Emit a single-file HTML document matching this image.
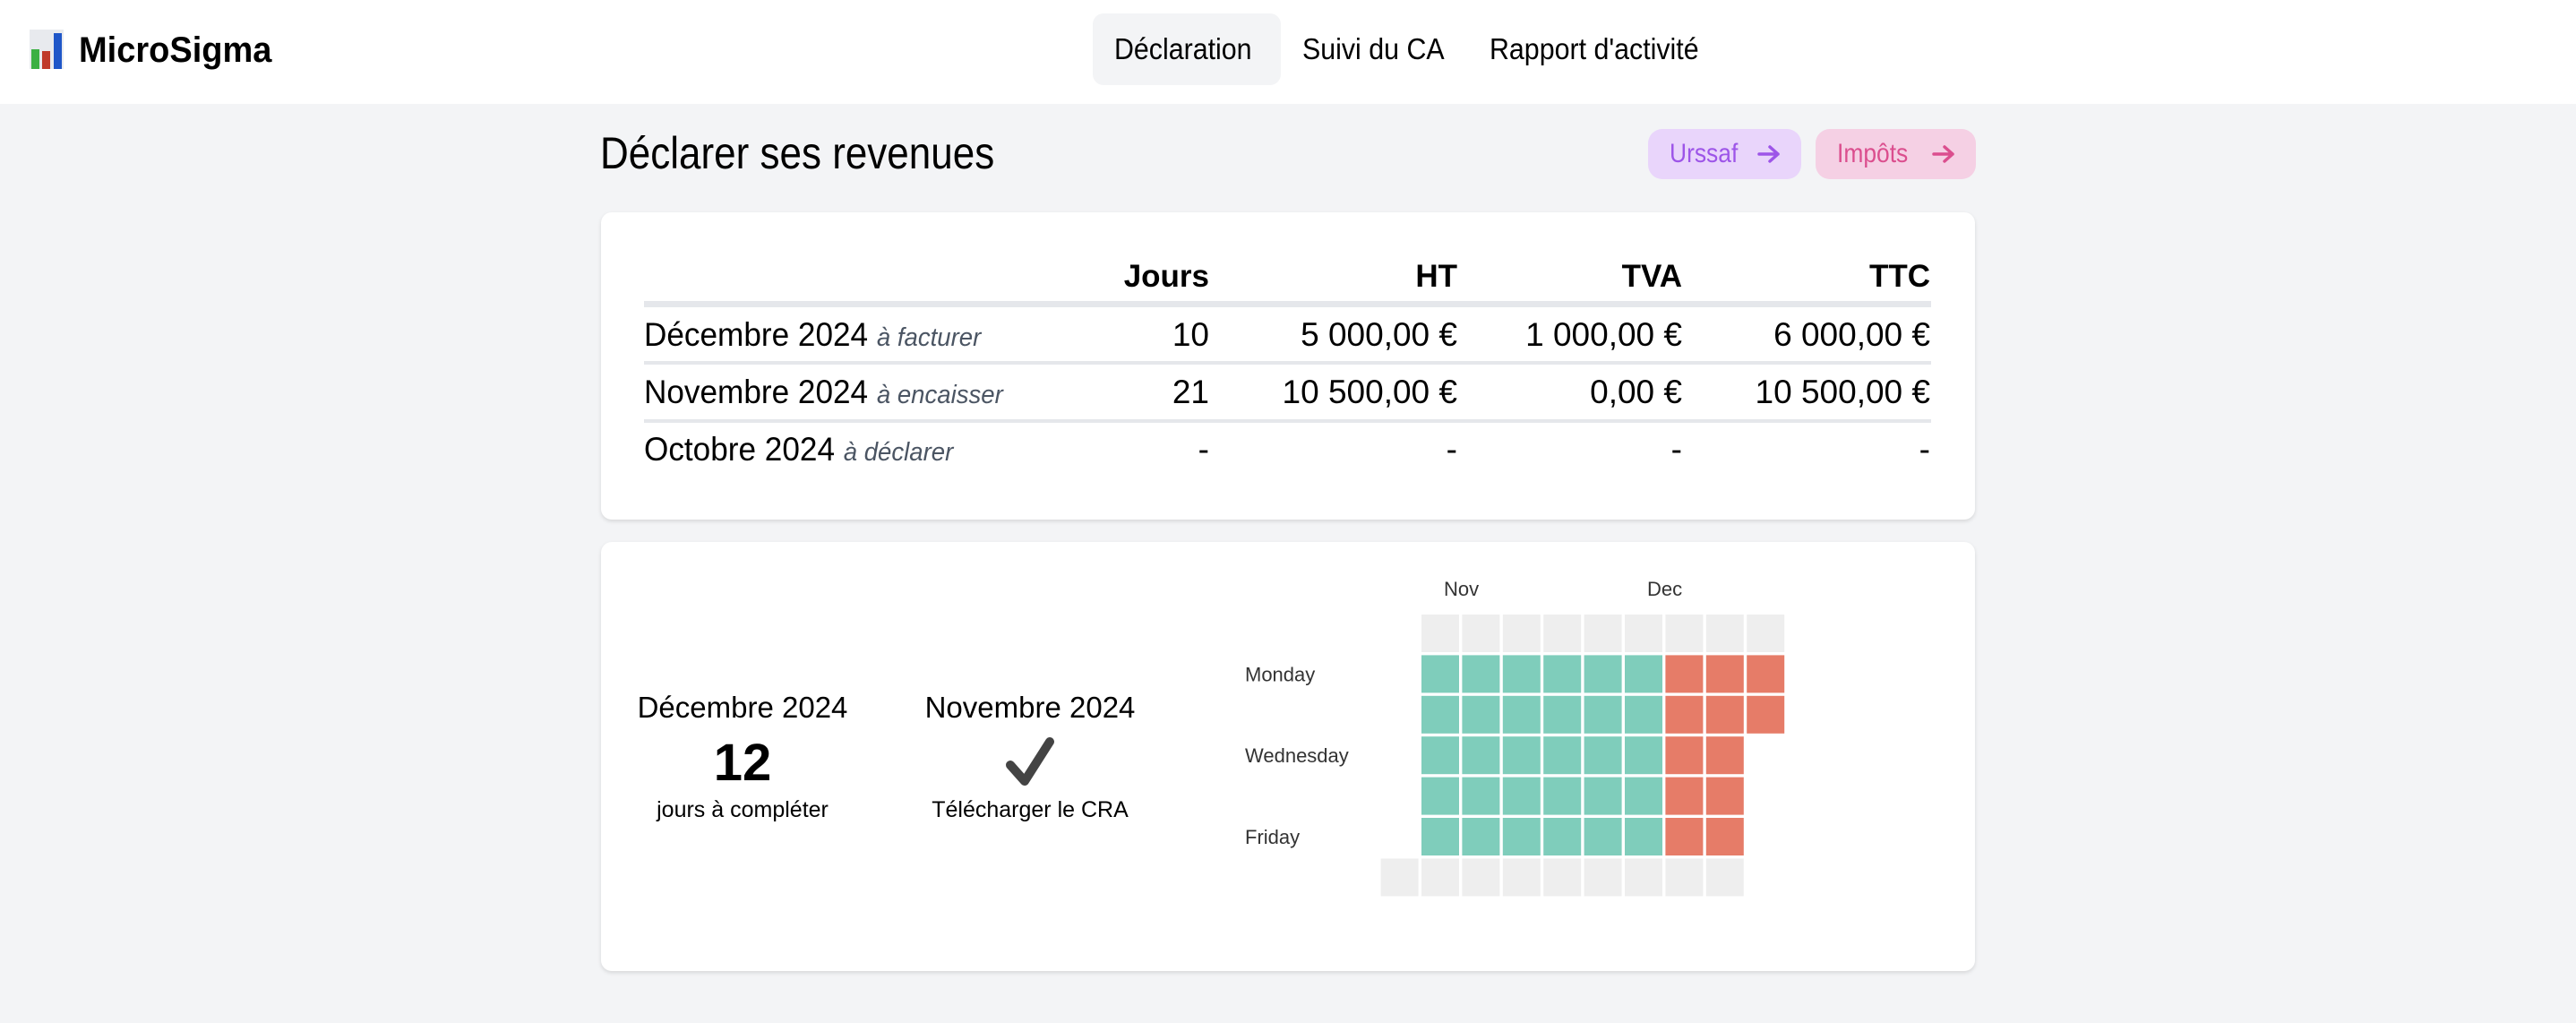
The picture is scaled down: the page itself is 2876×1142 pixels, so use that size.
<!DOCTYPE html>
<html><head><meta charset="utf-8"><style>
*{box-sizing:border-box;margin:0;padding:0}
body{width:2876px;height:1142px;background:#f3f4f6;font-family:"Liberation Sans",sans-serif;color:#000;position:relative;overflow:hidden}
.abs{position:absolute}
header{position:absolute;left:0;top:0;width:2876px;height:116px;background:#fff}
.nav{position:absolute;top:15px;height:80px;line-height:80px;font-size:33px;border-radius:12px;white-space:nowrap}
.nav span{display:inline-block;transform:scaleX(0.92);transform-origin:left center}
.card{position:absolute;background:#fff;border-radius:12px;box-shadow:0 2px 5px rgba(0,0,0,.12)}
.btn{position:absolute;top:144px;height:56px;line-height:56px;border-radius:16px;font-size:30px;padding-left:24px}
.cell{position:absolute;font-size:37px;white-space:nowrap}
.l{transform:scaleX(0.95);transform-origin:left center}
.r{text-align:right}
.hdr{font-weight:bold;font-size:35px}
.sub{font-style:italic;color:#4b5563;font-size:29px}
.line{position:absolute;left:719px;width:1437px;background:#e5e7eb}
.ctr{position:absolute;text-align:center;white-space:nowrap}
</style></head><body>
<header>
  <svg class="abs" style="left:33px;top:33px" width="38" height="44">
    <rect x="0" y="0" width="38" height="44" fill="#e8eaee"/>
    <rect x="2" y="22" width="9" height="22" fill="#3cb043"/>
    <rect x="14" y="24" width="9" height="20" fill="#c0392b"/>
    <rect x="27" y="4" width="9" height="40" fill="#1f56c8"/>
  </svg>
  <div class="abs" style="left:88px;top:28px;font-size:40px;font-weight:bold;line-height:56px;transform:scaleX(0.95);transform-origin:left center">MicroSigma</div>
  <div class="nav" style="left:1220px;width:210px;background:#f3f4f6;padding-left:24px"><span>Déclaration</span></div>
  <div class="nav" style="left:1454px"><span>Suivi du CA</span></div>
  <div class="nav" style="left:1663px"><span>Rapport d'activité</span></div>
</header>

<div class="abs" style="left:670px;top:140px;font-size:50px;line-height:62px;transform:scaleX(0.88);transform-origin:left center;white-space:nowrap">Déclarer ses revenues</div>
<div class="btn" style="left:1840px;width:171px;background:#e9d5fb;color:#9d55e8"><span style="display:inline-block;transform:scaleX(0.88);transform-origin:left center">Urssaf</span>
<svg class="abs" style="left:122px;top:17px" width="26" height="22"><path d="M2 11 H23 M14 3 L23 11 L14 19" stroke="#9d55e8" stroke-width="3.5" fill="none" stroke-linecap="round" stroke-linejoin="round"/></svg></div>
<div class="btn" style="left:2027px;width:179px;background:#f5d0e4;color:#db4e8e"><span style="display:inline-block;transform:scaleX(0.88);transform-origin:left center">Impôts</span>
<svg class="abs" style="left:130px;top:17px" width="26" height="22"><path d="M2 11 H23 M14 3 L23 11 L14 19" stroke="#db4e8e" stroke-width="3.5" fill="none" stroke-linecap="round" stroke-linejoin="round"/></svg></div>

<div class="card" style="left:671px;top:237px;width:1534px;height:343px"></div>
<div class="cell hdr r" style="right:1526px;top:289px">Jours</div>
<div class="cell hdr r" style="right:1249px;top:289px">HT</div>
<div class="cell hdr r" style="right:998px;top:289px">TVA</div>
<div class="cell hdr r" style="right:721px;top:289px">TTC</div>
<div class="line" style="top:336px;height:7px"></div>
<div class="line" style="top:403px;height:4px"></div>
<div class="line" style="top:468px;height:4px"></div>

<div class="cell l" style="left:719px;top:353px">Décembre 2024 <span class="sub">à facturer</span></div>
<div class="cell r" style="right:1526px;top:353px">10</div>
<div class="cell r" style="right:1249px;top:353px">5 000,00 €</div>
<div class="cell r" style="right:998px;top:353px">1 000,00 €</div>
<div class="cell r" style="right:721px;top:353px">6 000,00 €</div>

<div class="cell l" style="left:719px;top:417px">Novembre 2024 <span class="sub">à encaisser</span></div>
<div class="cell r" style="right:1526px;top:417px">21</div>
<div class="cell r" style="right:1249px;top:417px">10 500,00 €</div>
<div class="cell r" style="right:998px;top:417px">0,00 €</div>
<div class="cell r" style="right:721px;top:417px">10 500,00 €</div>

<div class="cell l" style="left:719px;top:481px">Octobre 2024 <span class="sub">à déclarer</span></div>
<div class="cell r" style="right:1526px;top:481px">-</div>
<div class="cell r" style="right:1249px;top:481px">-</div>
<div class="cell r" style="right:998px;top:481px">-</div>
<div class="cell r" style="right:721px;top:481px">-</div>

<div class="card" style="left:671px;top:605px;width:1534px;height:479px"></div>
<div class="ctr" style="left:679px;width:300px;top:771px;font-size:33px">Décembre 2024</div>
<div class="ctr" style="left:679px;width:300px;top:818px;font-size:58px;font-weight:bold">12</div>
<div class="ctr" style="left:679px;width:300px;top:890px;font-size:25px">jours à compléter</div>
<div class="ctr" style="left:1000px;width:300px;top:771px;font-size:33px">Novembre 2024</div>
<svg class="abs" style="left:1120px;top:822px" width="60" height="58"><path d="M8 32 L24 50 L52 6" stroke="#444" stroke-width="10" fill="none" stroke-linecap="round" stroke-linejoin="round"/></svg>
<div class="ctr" style="left:1000px;width:300px;top:890px;font-size:25px">Télécharger le CRA</div>

<svg id="hm" class="abs" style="left:1360px;top:620px" width="700" height="400"></svg>
<script>
// status per week column (index 0 = week before Nov), rows Sun..Sat: -1 none, 0 empty, 1 completed, 2 to complete
const weekCols=[0,1,2,3,4,5,6,7,8,9];
const sunday   =[-1,0,0,0,0,0,0,0,0,0];
const monday   =[-1,1,1,1,1,1,1,2,2,2];
const tuesday  =[-1,1,1,1,1,1,1,2,2,2];
const wednesday=[-1,1,1,1,1,1,1,2,2,-1];
const thursday =[-1,1,1,1,1,1,1,2,2,-1];
const friday   =[-1,1,1,1,1,1,1,2,2,-1];
const saturday =[0,0,0,0,0,0,0,0,0,-1];
const rows=[sunday,monday,tuesday,wednesday,thursday,friday,saturday];
const dayLabels=["","Monday","","Wednesday","","Friday",""];
const monthLabels=["Nov","Dec"];
const monthCols=[1,6];
const colors={0:"#eeeeee",1:"#7fcdbb",2:"#e67c68"};
const svg=document.getElementById('hm');
const NS="http://www.w3.org/2000/svg";
const x0=181.6,y0=66,px=45.4,py=45.4,cw=42,ch=42;
function xs(c){return x0+c*px;}
function ys(r){return y0+r*py;}
rows.forEach((row,r)=>{row.forEach((v,c)=>{
  if(v<0)return;
  const rc=document.createElementNS(NS,'rect');
  rc.setAttribute('x',xs(weekCols[c]));rc.setAttribute('y',ys(r));
  rc.setAttribute('width',cw);rc.setAttribute('height',ch);
  rc.setAttribute('fill',colors[v]);
  
  
  svg.appendChild(rc);
});});
dayLabels.forEach((t,r)=>{if(!t)return;
  const tx=document.createElementNS(NS,'text');
  tx.setAttribute('x',30);tx.setAttribute('y',ys(r)+ch/2+8);
  tx.setAttribute('font-family','Liberation Sans, sans-serif');tx.setAttribute('font-size','22');tx.setAttribute('fill','#333');
  tx.textContent=t;
  
  
  svg.appendChild(tx);});
monthLabels.forEach((t,i)=>{
  const tx=document.createElementNS(NS,'text');
  tx.setAttribute('x',xs(monthCols[i])+25);tx.setAttribute('y',45);
  tx.setAttribute('font-family','Liberation Sans, sans-serif');tx.setAttribute('font-size','22');tx.setAttribute('fill','#333');
  tx.textContent=t;
  
  
  svg.appendChild(tx);});
</script>
</body></html>
